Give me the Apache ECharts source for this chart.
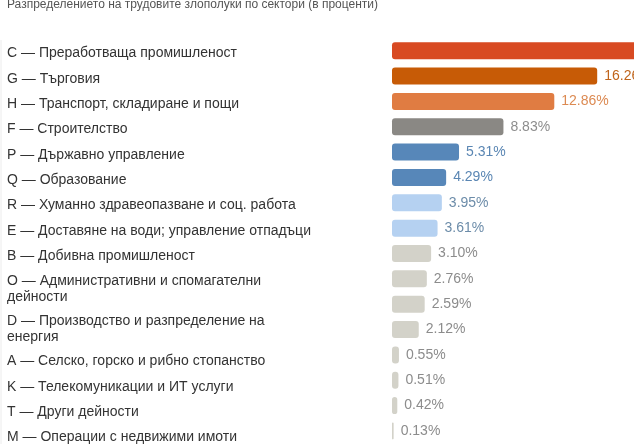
<!DOCTYPE html>
<html><head><meta charset="utf-8">
<script src="https://cdn.jsdelivr.net/npm/echarts@6/dist/echarts.min.js"></script>
<style>html,body{margin:0;padding:0;background:#fff}#c{width:634px;height:444px}</style>
</head><body><div id="c"></div>
<script>
const titleText = 'Разпределението на трудовите злополуки по сектори (в проценти)';
// Sector labels (the 16th label lies below the visible area in the reference)
const labelNames = [
  'C — Преработваща промишленост',
  'G — Търговия',
  'H — Транспорт, складиране и пощи',
  'F — Строителство',
  'P — Държавно управление',
  'Q — Образование',
  'R — Хуманно здравеопазване и соц. работа',
  'E — Доставяне на води; управление отпадъци',
  'B — Добивна промишленост',
  'O — Административни и спомагателни\nдейности',
  'D — Производство и разпределение на\nенергия',
  'A — Селско, горско и рибно стопанство',
  'K — Телекомуникации и ИТ услуги',
  'T — Други дейности',
  'M — Операции с недвижими имоти',
  ''
];
// Bar values in percent (first bar runs off the right edge; estimated)
const values = [32.71, 16.26, 12.86, 8.83, 5.31, 4.29, 3.95, 3.61, 3.10, 2.76, 2.59, 2.12, 0.55, 0.51, 0.42, 0.13];
const barColors = ['#d84a22', '#c75b06', '#e07c42', '#8a8884', '#5787b9', '#5787b9', '#b5d1f1', '#b5d1f1',
  '#d3d2c9', '#d3d2c9', '#d3d2c9', '#d3d2c9', '#d3d2c9', '#d3d2c9', '#d3d2c9', '#d3d2c9'];
const labelColors = ['#c5501f', '#c0651c', '#dc8a52', '#8d8d8d', '#5a86b3', '#5a86b3', '#6c8ca9', '#6c8ca9',
  '#8c8c8c', '#8c8c8c', '#8c8c8c', '#8c8c8c', '#8c8c8c', '#8c8c8c', '#8c8c8c', '#8c8c8c'];

const chart = echarts.init(document.getElementById('c'), null, {renderer: 'canvas'});

const gridTop = 38, rowH = 25.35, extraLine = 14.7;
const gridH = rowH * values.length;
// label list layout: each label advances by a row, plus extra for wrapped lines
const labelPos = [];
let acc = 7.3;
labelNames.forEach(n => {
  labelPos.push(acc);
  acc += rowH + extraLine * (n.split('\n').length - 1);
});

chart.setOption({
  animation: false,
  backgroundColor: '#fff',
  title: {
    text: titleText, left: 7, top: -1, padding: 0,
    textStyle: {fontFamily: 'Liberation Sans', fontSize: 12, fontWeight: 'normal', color: '#555'}
  },
  graphic: [{type: 'line', shape: {x1: 1, y1: 40, x2: 1, y2: 444}, style: {stroke: '#ececec', lineWidth: 1}}],
  grid: {left: 392, top: gridTop, width: 12.62 * 40, height: gridH, outerBoundsMode: 'none', containLabel: false},
  xAxis: {type: 'value', min: 0, max: 40, show: false},
  yAxis: [{
    type: 'category', data: labelNames, inverse: true,
    axisLine: {show: false}, axisTick: {show: false}, axisLabel: {show: false}, splitLine: {show: false}
  }, {
    type: 'value', min: 0, max: gridH, inverse: true, position: 'left',
    axisLine: {show: false}, axisTick: {show: false}, splitLine: {show: false},
    axisLabel: {
      show: true, customValues: labelPos, align: 'left', verticalAlign: 'top', margin: 385,
      fontFamily: 'Liberation Sans', fontSize: 14, lineHeight: 16, color: '#333',
      formatter: (v) => {
        let best = 0, d = 1e9;
        labelPos.forEach((p, i) => { if (Math.abs(p - v) < d) { d = Math.abs(p - v); best = i; } });
        return labelNames[best];
      }
    }
  }],
  series: [{
    type: 'bar', yAxisIndex: 0, barWidth: 17,
    data: values.map((v, i) => ({
      value: v,
      itemStyle: {color: barColors[i], borderRadius: 3},
      label: {color: labelColors[i]}
    })),
    label: {
      show: true, position: 'right', distance: 7,
      fontFamily: 'Liberation Sans', fontSize: 14,
      formatter: p => p.value.toFixed(2) + '%'
    }
  }]
});
</script>
</body></html>
